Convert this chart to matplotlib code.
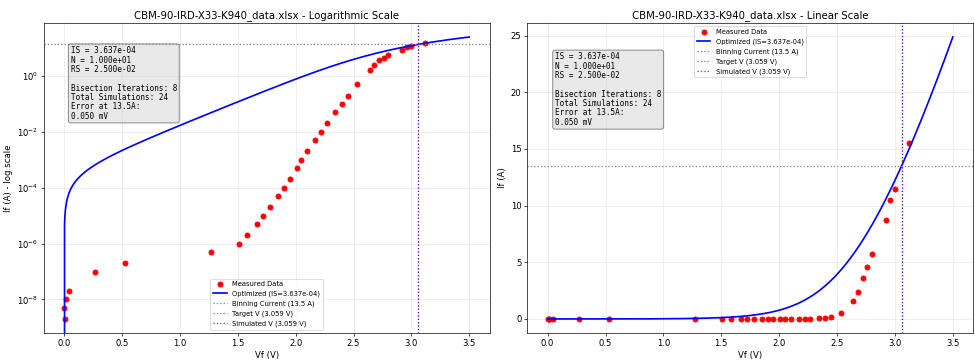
import numpy as np
import matplotlib
matplotlib.use('Agg')
import matplotlib.pyplot as plt

vf_meas = [0.003, 0.009, 0.015, 0.045, 0.27, 0.53, 1.27, 1.51, 1.58, 1.67, 1.72, 1.78,
           1.85, 1.90, 1.95, 2.01, 2.05, 2.10, 2.17, 2.22, 2.27, 2.34, 2.40, 2.45,
           2.53, 2.64, 2.68, 2.72, 2.76, 2.80, 2.92, 2.96, 3.00, 3.12]
if_meas = [5e-9, 2e-9, 1e-8, 2e-8, 1e-7, 2e-7, 5e-7, 1e-6, 2e-6, 5e-6, 1e-5, 2e-5,
           5e-5, 1e-4, 2e-4, 5e-4, 1e-3, 2e-3, 5e-3, 1e-2, 2e-2, 5e-2, 0.1, 0.2,
           0.5, 1.6, 2.4, 3.6, 4.6, 5.7, 8.7, 10.5, 11.5, 15.5]

# diode model parameters
IS = 3.637e-4
N = 10.0
RS = 2.5e-2
VT = 0.025852
bin_current = 13.5
target_v = 3.059
sim_v = 3.059
fname = 'CBM-90-IRD-X33-K940_data.xlsx'


def diode_current(v):
    # solve I = IS*(exp((V - I*RS)/(N*VT)) - 1) with newton
    i = np.zeros_like(v)
    for _ in range(200):
        e = np.exp((v - i * RS) / (N * VT))
        f = IS * (e - 1) - i
        df = -IS * e * RS / (N * VT) - 1
        i = i - f / df
    return i


v_sim = np.linspace(0, 3.5, 1000)
i_sim = diode_current(v_sim)

info = (f'IS = {IS:.3e}\nN = {N:.3e}\nRS = {RS:.3e}\n\n'
        f'Bisection Iterations: 8\nTotal Simulations: 24\nError at {bin_current}A:\n0.050 mV')

fig, (ax1, ax2) = plt.subplots(1, 2, figsize=(975 / 61, 364 / 61), dpi=61)
fig.subplots_adjust(left=0.045, right=0.998, top=0.937, bottom=0.085, wspace=0.085)

for ax, scale in [(ax1, 'log'), (ax2, 'linear')]:
    ax.plot(vf_meas, if_meas, 'ro', markersize=6, label='Measured Data')
    ax.plot(v_sim, i_sim, 'b-', linewidth=2, label=f'Optimized (IS={IS:.3e})')
    ax.axhline(bin_current, color='gray', linestyle=':', label=f'Binning Current ({bin_current} A)')
    ax.axvline(target_v, color='r', linestyle=':', alpha=0.7, label=f'Target V ({target_v:.3f} V)')
    ax.axvline(sim_v, color='b', linestyle=':', alpha=0.7, label=f'Simulated V ({sim_v:.3f} V)')
    ax.set_yscale(scale)
    ax.set_xlabel('Vf (V)')
    ax.grid(True, alpha=0.3)

ax1.set_ylabel('If (A) - log scale')
ax1.set_title(f'{fname} - Logarithmic Scale')
ax1.legend(loc='lower center', fontsize=8)
ax1.text(0.06, 0.925, info, transform=ax1.transAxes, fontsize=9, family='monospace',
         va='top', linespacing=1.05,
         bbox=dict(boxstyle='round', facecolor='lightgray', alpha=0.5))

ax2.set_ylabel('If (A)')
ax2.set_title(f'{fname} - Linear Scale')
ax2.legend(loc='upper center', fontsize=8)
ax2.text(0.062, 0.905, info, transform=ax2.transAxes, fontsize=9, family='monospace',
         va='top', linespacing=1.05,
         bbox=dict(boxstyle='round', facecolor='lightgray', alpha=0.5))

plt.savefig('out.png')
